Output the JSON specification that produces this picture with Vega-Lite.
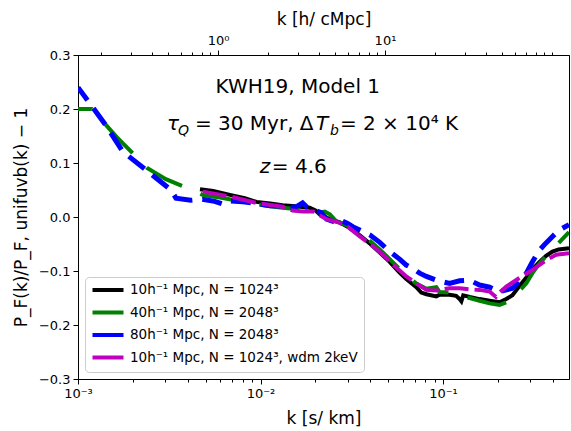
{
  "$schema": "https://vega.github.io/schema/vega-lite/v6.json",
  "width": 491,
  "height": 324,
  "autosize": {"type": "none"},
  "padding": {"left": 78, "top": 55, "right": 2, "bottom": 52},
  "background": "white",
  "config": {
    "font": "DejaVu Sans",
    "view": {"stroke": "black", "strokeWidth": 1},
    "axis": {"domainColor": "black", "tickColor": "black", "labelColor": "black", "titleColor": "black", "labelFont": "DejaVu Sans", "titleFont": "DejaVu Sans", "labelFontSize": 13, "titleFontSize": 17, "titleFontWeight": "normal", "grid": false, "tickWidth": 1, "domainWidth": 1}
  },
  "datasets": {
    "lines": [
      {"series": "a", "k": 0.00466, "r": 0.0515}, {"series": "a", "k": 0.0055, "r": 0.048}, {"series": "a", "k": 0.0068, "r": 0.041}, {"series": "a", "k": 0.0082, "r": 0.035}, {"series": "a", "k": 0.0095, "r": 0.028}, {"series": "a", "k": 0.0113, "r": 0.025}, {"series": "a", "k": 0.0132, "r": 0.022}, {"series": "a", "k": 0.0155, "r": 0.02}, {"series": "a", "k": 0.0186, "r": 0.017}, {"series": "a", "k": 0.02, "r": 0.012}, {"series": "a", "k": 0.0211, "r": 0.005}, {"series": "a", "k": 0.0225, "r": 0.001}, {"series": "a", "k": 0.024, "r": -0.004}, {"series": "a", "k": 0.0272, "r": -0.01}, {"series": "a", "k": 0.03, "r": -0.018}, {"series": "a", "k": 0.035, "r": -0.034}, {"series": "a", "k": 0.04, "r": -0.05}, {"series": "a", "k": 0.045, "r": -0.066}, {"series": "a", "k": 0.051, "r": -0.083}, {"series": "a", "k": 0.0578, "r": -0.103}, {"series": "a", "k": 0.0629, "r": -0.115}, {"series": "a", "k": 0.0714, "r": -0.13}, {"series": "a", "k": 0.076, "r": -0.14}, {"series": "a", "k": 0.0811, "r": -0.143}, {"series": "a", "k": 0.0919, "r": -0.147}, {"series": "a", "k": 0.0958, "r": -0.144}, {"series": "a", "k": 0.1086, "r": -0.144}, {"series": "a", "k": 0.118, "r": -0.146}, {"series": "a", "k": 0.1233, "r": -0.152}, {"series": "a", "k": 0.126, "r": -0.156}, {"series": "a", "k": 0.129, "r": -0.145}, {"series": "a", "k": 0.14, "r": -0.148}, {"series": "a", "k": 0.1585, "r": -0.152}, {"series": "a", "k": 0.18, "r": -0.155}, {"series": "a", "k": 0.204, "r": -0.158}, {"series": "a", "k": 0.222, "r": -0.152}, {"series": "a", "k": 0.24, "r": -0.145}, {"series": "a", "k": 0.262, "r": -0.128}, {"series": "a", "k": 0.286, "r": -0.112}, {"series": "a", "k": 0.309, "r": -0.097}, {"series": "a", "k": 0.338, "r": -0.083}, {"series": "a", "k": 0.367, "r": -0.072}, {"series": "a", "k": 0.398, "r": -0.064}, {"series": "a", "k": 0.43, "r": -0.06}, {"series": "a", "k": 0.49, "r": -0.058},
      {"series": "b", "k": 0.001, "r": 0.2}, {"series": "b", "k": 0.00119, "r": 0.2}, {"series": "b", "k": 0.00163, "r": 0.148}, {"series": "b", "k": 0.00239, "r": 0.091}, {"series": "b", "k": 0.00303, "r": 0.07}, {"series": "b", "k": 0.004, "r": 0.053}, {"series": "b", "k": 0.0049, "r": 0.04}, {"series": "b", "k": 0.006, "r": 0.036}, {"series": "b", "k": 0.0075, "r": 0.03}, {"series": "b", "k": 0.0095, "r": 0.024}, {"series": "b", "k": 0.0113, "r": 0.02}, {"series": "b", "k": 0.0132, "r": 0.017}, {"series": "b", "k": 0.0155, "r": 0.015}, {"series": "b", "k": 0.0186, "r": 0.012}, {"series": "b", "k": 0.0211, "r": 0.008}, {"series": "b", "k": 0.0225, "r": 0.01}, {"series": "b", "k": 0.024, "r": 0.005}, {"series": "b", "k": 0.026, "r": -0.008}, {"series": "b", "k": 0.03, "r": -0.016}, {"series": "b", "k": 0.035, "r": -0.03}, {"series": "b", "k": 0.04, "r": -0.045}, {"series": "b", "k": 0.045, "r": -0.06}, {"series": "b", "k": 0.051, "r": -0.078}, {"series": "b", "k": 0.0578, "r": -0.096}, {"series": "b", "k": 0.0629, "r": -0.11}, {"series": "b", "k": 0.0714, "r": -0.123}, {"series": "b", "k": 0.0811, "r": -0.133}, {"series": "b", "k": 0.0919, "r": -0.13}, {"series": "b", "k": 0.0958, "r": -0.139}, {"series": "b", "k": 0.1086, "r": -0.14}, {"series": "b", "k": 0.1233, "r": -0.148}, {"series": "b", "k": 0.1399, "r": -0.15}, {"series": "b", "k": 0.1585, "r": -0.155}, {"series": "b", "k": 0.18, "r": -0.16}, {"series": "b", "k": 0.204, "r": -0.163}, {"series": "b", "k": 0.222, "r": -0.158}, {"series": "b", "k": 0.24, "r": -0.15}, {"series": "b", "k": 0.262, "r": -0.137}, {"series": "b", "k": 0.286, "r": -0.123}, {"series": "b", "k": 0.309, "r": -0.104}, {"series": "b", "k": 0.338, "r": -0.086}, {"series": "b", "k": 0.367, "r": -0.072}, {"series": "b", "k": 0.398, "r": -0.061}, {"series": "b", "k": 0.43, "r": -0.048}, {"series": "b", "k": 0.49, "r": -0.028},
      {"series": "c", "k": 0.001, "r": 0.24}, {"series": "c", "k": 0.00142, "r": 0.17}, {"series": "c", "k": 0.00176, "r": 0.121}, {"series": "c", "k": 0.00236, "r": 0.087}, {"series": "c", "k": 0.00323, "r": 0.05}, {"series": "c", "k": 0.00344, "r": 0.035}, {"series": "c", "k": 0.00415, "r": 0.031}, {"series": "c", "k": 0.0048, "r": 0.033}, {"series": "c", "k": 0.0056, "r": 0.029}, {"series": "c", "k": 0.0062, "r": 0.024}, {"series": "c", "k": 0.0068, "r": 0.03}, {"series": "c", "k": 0.008, "r": 0.028}, {"series": "c", "k": 0.0095, "r": 0.025}, {"series": "c", "k": 0.0113, "r": 0.021}, {"series": "c", "k": 0.0132, "r": 0.02}, {"series": "c", "k": 0.0155, "r": 0.018}, {"series": "c", "k": 0.017, "r": 0.026}, {"series": "c", "k": 0.018, "r": 0.018}, {"series": "c", "k": 0.02, "r": 0.012}, {"series": "c", "k": 0.0215, "r": 0.008}, {"series": "c", "k": 0.023, "r": -0.004}, {"series": "c", "k": 0.025, "r": -0.008}, {"series": "c", "k": 0.0272, "r": -0.005}, {"series": "c", "k": 0.03, "r": -0.012}, {"series": "c", "k": 0.032, "r": -0.018}, {"series": "c", "k": 0.035, "r": -0.024}, {"series": "c", "k": 0.0397, "r": -0.033}, {"series": "c", "k": 0.045, "r": -0.047}, {"series": "c", "k": 0.051, "r": -0.064}, {"series": "c", "k": 0.0578, "r": -0.078}, {"series": "c", "k": 0.0629, "r": -0.089}, {"series": "c", "k": 0.068, "r": -0.095}, {"series": "c", "k": 0.0745, "r": -0.104}, {"series": "c", "k": 0.0811, "r": -0.11}, {"series": "c", "k": 0.0919, "r": -0.117}, {"series": "c", "k": 0.1086, "r": -0.123}, {"series": "c", "k": 0.1233, "r": -0.118}, {"series": "c", "k": 0.1399, "r": -0.117}, {"series": "c", "k": 0.1585, "r": -0.126}, {"series": "c", "k": 0.18, "r": -0.13}, {"series": "c", "k": 0.204, "r": -0.138}, {"series": "c", "k": 0.24, "r": -0.132}, {"series": "c", "k": 0.262, "r": -0.118}, {"series": "c", "k": 0.286, "r": -0.104}, {"series": "c", "k": 0.309, "r": -0.083}, {"series": "c", "k": 0.338, "r": -0.061}, {"series": "c", "k": 0.367, "r": -0.048}, {"series": "c", "k": 0.398, "r": -0.036}, {"series": "c", "k": 0.43, "r": -0.025}, {"series": "c", "k": 0.49, "r": -0.014},
      {"series": "d", "k": 0.00483, "r": 0.047}, {"series": "d", "k": 0.0068, "r": 0.038}, {"series": "d", "k": 0.0095, "r": 0.026}, {"series": "d", "k": 0.0132, "r": 0.019}, {"series": "d", "k": 0.015, "r": 0.012}, {"series": "d", "k": 0.017, "r": 0.01}, {"series": "d", "k": 0.0195, "r": 0.01}, {"series": "d", "k": 0.0211, "r": 0.003}, {"series": "d", "k": 0.023, "r": -0.004}, {"series": "d", "k": 0.0272, "r": -0.011}, {"series": "d", "k": 0.03, "r": -0.018}, {"series": "d", "k": 0.035, "r": -0.036}, {"series": "d", "k": 0.042, "r": -0.056}, {"series": "d", "k": 0.049, "r": -0.076}, {"series": "d", "k": 0.056, "r": -0.095}, {"series": "d", "k": 0.0629, "r": -0.11}, {"series": "d", "k": 0.0714, "r": -0.123}, {"series": "d", "k": 0.0811, "r": -0.135}, {"series": "d", "k": 0.0919, "r": -0.136}, {"series": "d", "k": 0.1086, "r": -0.132}, {"series": "d", "k": 0.1233, "r": -0.132}, {"series": "d", "k": 0.1399, "r": -0.134}, {"series": "d", "k": 0.1585, "r": -0.135}, {"series": "d", "k": 0.18, "r": -0.138}, {"series": "d", "k": 0.195, "r": -0.148}, {"series": "d", "k": 0.204, "r": -0.14}, {"series": "d", "k": 0.222, "r": -0.129}, {"series": "d", "k": 0.262, "r": -0.113}, {"series": "d", "k": 0.309, "r": -0.098}, {"series": "d", "k": 0.367, "r": -0.08}, {"series": "d", "k": 0.417, "r": -0.07}, {"series": "d", "k": 0.49, "r": -0.067}
    ],
    "notes": [
      {"id": "t1", "text": "KWH19, Model 1", "k": 0.016, "r": 0.229},
      {"id": "tau", "text": "τ", "k": 0.00307, "r": 0.161},
      {"id": "Q", "text": "Q", "k": 0.00307, "r": 0.161},
      {"id": "mid", "text": "= 30 Myr, Δ", "k": 0.00307, "r": 0.161},
      {"id": "T", "text": "T", "k": 0.00307, "r": 0.161},
      {"id": "b", "text": "b", "k": 0.00307, "r": 0.161},
      {"id": "end", "text": "= 2 × 10⁴ K", "k": 0.00307, "r": 0.161},
      {"id": "z", "text": "z", "k": 0.00991, "r": 0.081},
      {"id": "zv", "text": "= 4.6", "k": 0.00991, "r": 0.081}
    ],
    "topaxis": [{"kh": 0.145}, {"kh": 126.5}]
  },
  "resolve": {"scale": {"x": "independent"}},
  "layer": [
    {
      "layer": [
        {
          "mark": {"type": "rule", "strokeDash": [2, 3.2], "strokeWidth": 2, "color": "black"},
          "encoding": {"y": {"datum": 0, "type": "quantitative"}}
        },
        {
          "data": {"name": "lines"},
          "transform": [{"filter": "datum.series == 'a'"}],
          "mark": {"type": "line", "strokeWidth": 4, "clip": true},
          "encoding": {
            "x": {"field": "k", "type": "quantitative", "scale": {"type": "log", "domain": [0.001, 0.49], "nice": false},
              "axis": {"orient": "bottom", "title": "k [s/ km]", "values": [0.001, 0.002, 0.003, 0.004, 0.005, 0.006, 0.007, 0.008, 0.009, 0.01, 0.02, 0.03, 0.04, 0.05, 0.06, 0.07, 0.08, 0.09, 0.1, 0.2, 0.3, 0.4],
                "labelExpr": "datum.value == 0.001 ? '10⁻³' : datum.value == 0.01 ? '10⁻²' : datum.value == 0.1 ? '10⁻¹' : ''",
                "tickSize": {"condition": {"test": "datum.value == 0.001 || datum.value == 0.01 || datum.value == 0.1", "value": 5}, "value": 3},
                "labelPadding": 3, "titlePadding": 10, "labelFlush": false}},
            "y": {"field": "r", "type": "quantitative", "scale": {"domain": [-0.3, 0.3], "nice": false, "zero": false},
              "axis": {"title": "P_F(k)/P_F, unifuvb(k) − 1", "values": [-0.3, -0.2, -0.1, 0, 0.1, 0.2, 0.3], "labelExpr": "replace(format(datum.value, '.1f'), '-', '−')", "tickSize": 5, "labelPadding": 3, "titlePadding": 8}},
            "color": {"field": "series", "type": "nominal", "scale": {"domain": ["a", "b", "c", "d"], "range": ["#000000", "#008000", "#0000ff", "#bf00bf"]},
              "legend": {"orient": "bottom-left", "offset": 7, "title": null, "symbolType": "M-3.1,0H3.1", "symbolSize": 100, "symbolStrokeWidth": 4, "labelFontSize": 13.5, "labelFont": "DejaVu Sans", "labelColor": "black", "labelOffset": 15, "symbolOffset": 10, "padding": 6, "rowPadding": 6.5, "strokeColor": "#cccccc", "fillColor": "rgba(255,255,255,0.8)", "cornerRadius": 4, "labelLimit": 400,
                "labelExpr": "datum.label == 'a' ? '10h⁻¹ Mpc, N = 1024³' : datum.label == 'b' ? '40h⁻¹ Mpc, N = 2048³' : datum.label == 'c' ? '80h⁻¹ Mpc, N = 2048³' : '10h⁻¹ Mpc, N = 1024³, wdm 2keV'",
                "encode": {"symbols": {"update": {"strokeDash": {"value": [1, 0]}, "strokeWidth": {"value": 4}}}}}}
          }
        },
        {
          "data": {"name": "lines"},
          "transform": [{"filter": "datum.series == 'b'"}],
          "mark": {"type": "line", "strokeWidth": 4, "strokeDash": [40, 20], "strokeDashOffset": 26, "clip": true},
          "encoding": {"x": {"field": "k", "type": "quantitative"}, "y": {"field": "r", "type": "quantitative"}, "color": {"field": "series", "type": "nominal"}}
        },
        {
          "data": {"name": "lines"},
          "transform": [{"filter": "datum.series == 'c'"}],
          "mark": {"type": "line", "strokeWidth": 5, "strokeDash": [20, 10], "strokeDashOffset": 4, "clip": true},
          "encoding": {"x": {"field": "k", "type": "quantitative"}, "y": {"field": "r", "type": "quantitative"}, "color": {"field": "series", "type": "nominal"}}
        },
        {
          "data": {"name": "lines"},
          "transform": [{"filter": "datum.series == 'd'"}],
          "mark": {"type": "line", "strokeWidth": 4, "strokeDash": [24, 6], "clip": true},
          "encoding": {"x": {"field": "k", "type": "quantitative"}, "y": {"field": "r", "type": "quantitative"}, "color": {"field": "series", "type": "nominal"}}
        },
        {
          "data": {"name": "notes"},
          "transform": [{"filter": "datum.id == 't1'"}],
          "mark": {"type": "text", "fontSize": 20, "align": "center", "baseline": "alphabetic", "color": "black"},
          "encoding": {"x": {"field": "k", "type": "quantitative"}, "y": {"field": "r", "type": "quantitative"}, "text": {"field": "text"}}
        },
        {
          "data": {"name": "notes"},
          "transform": [{"filter": "datum.id == 'tau'"}],
          "mark": {"type": "text", "fontSize": 20, "fontStyle": "italic", "align": "left", "baseline": "alphabetic", "color": "black"},
          "encoding": {"x": {"field": "k", "type": "quantitative"}, "y": {"field": "r", "type": "quantitative"}, "text": {"field": "text"}}
        },
        {
          "data": {"name": "notes"},
          "transform": [{"filter": "datum.id == 'Q'"}],
          "mark": {"type": "text", "fontSize": 14, "fontStyle": "italic", "align": "left", "baseline": "alphabetic", "dx": 11, "dy": 5, "color": "black"},
          "encoding": {"x": {"field": "k", "type": "quantitative"}, "y": {"field": "r", "type": "quantitative"}, "text": {"field": "text"}}
        },
        {
          "data": {"name": "notes"},
          "transform": [{"filter": "datum.id == 'mid'"}],
          "mark": {"type": "text", "fontSize": 20, "align": "left", "baseline": "alphabetic", "dx": 28, "color": "black"},
          "encoding": {"x": {"field": "k", "type": "quantitative"}, "y": {"field": "r", "type": "quantitative"}, "text": {"field": "text"}}
        },
        {
          "data": {"name": "notes"},
          "transform": [{"filter": "datum.id == 'T'"}],
          "mark": {"type": "text", "fontSize": 20, "fontStyle": "italic", "align": "left", "baseline": "alphabetic", "dx": 149, "color": "black"},
          "encoding": {"x": {"field": "k", "type": "quantitative"}, "y": {"field": "r", "type": "quantitative"}, "text": {"field": "text"}}
        },
        {
          "data": {"name": "notes"},
          "transform": [{"filter": "datum.id == 'b'"}],
          "mark": {"type": "text", "fontSize": 14, "fontStyle": "italic", "align": "left", "baseline": "alphabetic", "dx": 163, "dy": 5, "color": "black"},
          "encoding": {"x": {"field": "k", "type": "quantitative"}, "y": {"field": "r", "type": "quantitative"}, "text": {"field": "text"}}
        },
        {
          "data": {"name": "notes"},
          "transform": [{"filter": "datum.id == 'end'"}],
          "mark": {"type": "text", "fontSize": 20, "align": "left", "baseline": "alphabetic", "dx": 173, "color": "black"},
          "encoding": {"x": {"field": "k", "type": "quantitative"}, "y": {"field": "r", "type": "quantitative"}, "text": {"field": "text"}}
        },
        {
          "data": {"name": "notes"},
          "transform": [{"filter": "datum.id == 'z'"}],
          "mark": {"type": "text", "fontSize": 20, "fontStyle": "italic", "align": "left", "baseline": "alphabetic", "color": "black"},
          "encoding": {"x": {"field": "k", "type": "quantitative"}, "y": {"field": "r", "type": "quantitative"}, "text": {"field": "text"}}
        },
        {
          "data": {"name": "notes"},
          "transform": [{"filter": "datum.id == 'zv'"}],
          "mark": {"type": "text", "fontSize": 20, "align": "left", "baseline": "alphabetic", "dx": 12, "color": "black"},
          "encoding": {"x": {"field": "k", "type": "quantitative"}, "y": {"field": "r", "type": "quantitative"}, "text": {"field": "text"}}
        }
      ]
    },
    {
      "data": {"name": "topaxis"},
      "mark": {"type": "point", "opacity": 0},
      "encoding": {
        "x": {"field": "kh", "type": "quantitative", "scale": {"type": "log", "domain": [0.145, 126.5], "nice": false},
          "axis": {"orient": "top", "title": "k [h/ cMpc]", "values": [0.2, 0.3, 0.4, 0.5, 0.6, 0.7, 0.8, 0.9, 1, 2, 3, 4, 5, 6, 7, 8, 9, 10, 20, 30, 40, 50, 60, 70, 80, 90, 100],
            "labelExpr": "datum.value == 1 ? '10⁰' : datum.value == 10 ? '10¹' : ''",
            "tickSize": {"condition": {"test": "datum.value == 1 || datum.value == 10", "value": 5}, "value": 3},
            "labelPadding": 3, "titlePadding": 6}}
      }
    }
  ]
}
